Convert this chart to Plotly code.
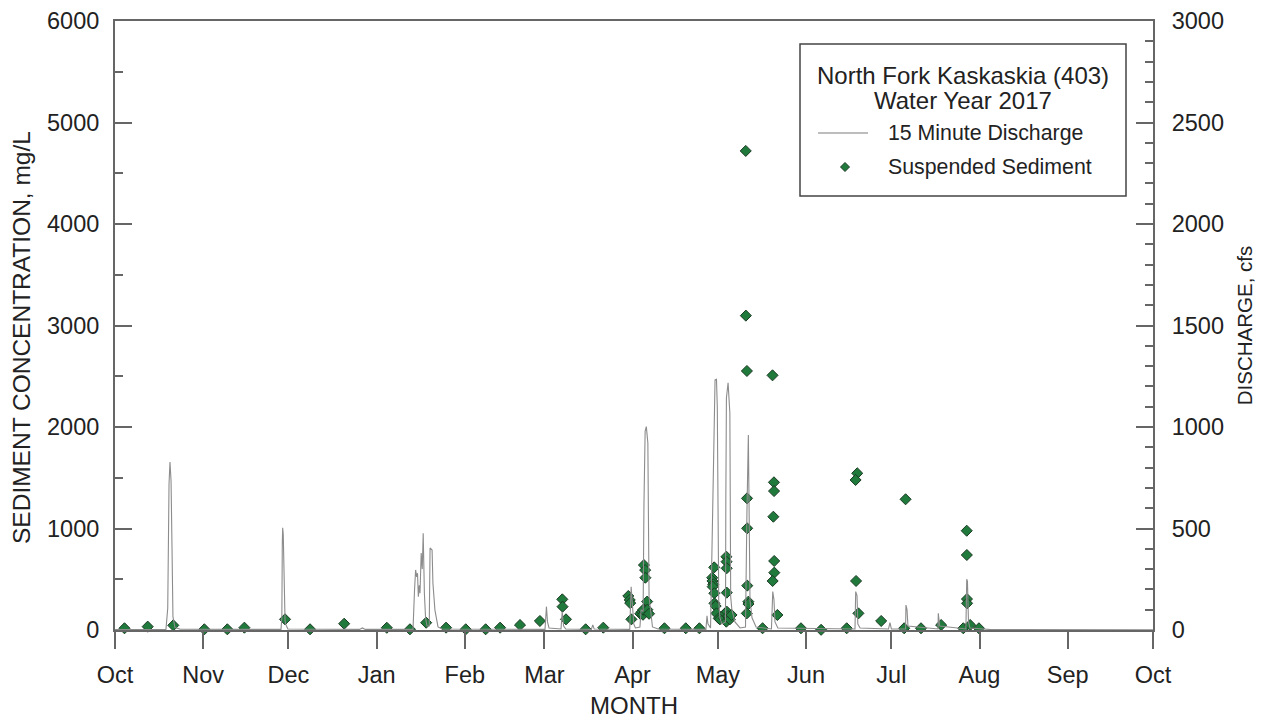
import plotly.graph_objects as go

# 15-minute discharge record (cfs), break points of the hydrograph
discharge_time = [
    "2016-10-01 00:00", "2016-10-18 22:00", "2016-10-19 13:00", "2016-10-19 18:00",
    "2016-10-20 00:00", "2016-10-20 08:00", "2016-10-20 17:00", "2016-10-21 01:00",
    "2016-10-21 09:00", "2016-10-22 02:00", "2016-10-24 00:00",
    "2016-11-28 09:00", "2016-11-28 16:00", "2016-11-28 20:00", "2016-11-28 23:00",
    "2016-11-29 04:00", "2016-11-29 10:00", "2016-11-29 19:00", "2016-11-30 03:00",
    "2016-11-30 19:00",
    "2016-12-26 00:00", "2016-12-27 00:00", "2016-12-28 00:00",
    "2017-01-13 19:00", "2017-01-14 08:00", "2017-01-14 17:00", "2017-01-15 02:00",
    "2017-01-15 09:00", "2017-01-15 16:00", "2017-01-16 00:00", "2017-01-16 06:00",
    "2017-01-16 16:00", "2017-01-17 01:00", "2017-01-17 09:00", "2017-01-17 19:00",
    "2017-01-18 05:00", "2017-01-18 17:00", "2017-01-19 12:00", "2017-01-19 19:00",
    "2017-01-20 12:00", "2017-01-20 19:00", "2017-01-21 12:00", "2017-01-22 14:00",
    "2017-01-24 00:00",
    "2017-03-01 05:00", "2017-03-01 12:00", "2017-03-01 17:00", "2017-03-02 02:00",
    "2017-03-02 15:00", "2017-03-06 20:00", "2017-03-07 06:00", "2017-03-07 18:00",
    "2017-03-08 12:00", "2017-03-17 12:00", "2017-03-18 00:00", "2017-03-18 12:00",
    "2017-03-31 00:00", "2017-03-31 12:00", "2017-03-31 22:00", "2017-04-01 10:00",
    "2017-04-02 00:00", "2017-04-03 14:00", "2017-04-04 00:00", "2017-04-04 17:00",
    "2017-04-05 00:00", "2017-04-05 10:00", "2017-04-05 20:00", "2017-04-06 09:00",
    "2017-04-06 19:00", "2017-04-07 11:00", "2017-04-08 00:00", "2017-04-10 00:00",
    "2017-04-26 19:00", "2017-04-27 04:00", "2017-04-27 12:00", "2017-04-28 10:00",
    "2017-04-28 19:00", "2017-04-29 01:00", "2017-04-29 07:00", "2017-04-29 14:00",
    "2017-04-30 00:00", "2017-04-30 12:00", "2017-04-30 19:00", "2017-05-01 07:00",
    "2017-05-01 17:00", "2017-05-02 10:00", "2017-05-03 16:00", "2017-05-03 19:00",
    "2017-05-04 00:00", "2017-05-04 14:00", "2017-05-05 05:00", "2017-05-05 12:00",
    "2017-05-05 22:00", "2017-05-07 00:00", "2017-05-08 19:00", "2017-05-10 17:00",
    "2017-05-10 21:00", "2017-05-11 05:00", "2017-05-11 17:00", "2017-05-11 22:00",
    "2017-05-12 07:00", "2017-05-13 00:00", "2017-05-14 10:00",
    "2017-05-19 20:00", "2017-05-20 07:00", "2017-05-20 17:00", "2017-05-21 02:00",
    "2017-05-22 02:00",
    "2017-06-18 05:00", "2017-06-18 11:00", "2017-06-18 22:00", "2017-06-19 05:00",
    "2017-06-20 00:00", "2017-06-30 00:00", "2017-06-30 12:00", "2017-07-01 00:00",
    "2017-07-06 00:00", "2017-07-06 03:00", "2017-07-06 12:00", "2017-07-06 20:00",
    "2017-07-17 10:00", "2017-07-17 12:00", "2017-07-18 00:00",
    "2017-07-27 05:00", "2017-07-27 12:00", "2017-07-27 18:00", "2017-07-28 03:00",
    "2017-07-28 15:00", "2017-08-05 00:00", "2017-09-30 23:45",
]
discharge_cfs = [
    2, 3, 107, 440,
    720, 828, 735, 410,
    66, 12, 4,
    3, 60, 430, 504,
    470, 320, 45, 25,
    5,
    3, 10, 3,
    3, 200, 296, 262,
    280, 164, 220, 181,
    379, 300, 477, 180,
    60, 20, 20, 404,
    394, 231, 98, 15,
    5,
    3, 110, 115, 40,
    10, 5, 90, 20,
    5, 3, 25, 5,
    3, 213, 140, 30,
    10, 15, 100, 90,
    616, 980, 1002, 921,
    164, 60, 15, 5,
    3, 70, 30, 10,
    300, 673, 837, 1084,
    1232, 1235, 1100, 148,
    60, 30, 40, 640,
    1143, 1218, 1069, 164,
    100, 40, 10, 15,
    312, 576, 960, 607,
    148, 60, 15,
    5, 189, 150, 40,
    10,
    5, 189, 170, 30,
    10, 5, 36, 5,
    5, 123, 100, 20,
    5, 82, 20,
    5, 250, 240, 40,
    10, 2, 1,
]

# Suspended sediment samples (mg/L)
sample_time = [
    "2016-10-04 08:00", "2016-10-12 12:00", "2016-10-21 12:00", "2016-11-01 10:00",
    "2016-11-09 12:00", "2016-11-15 12:00", "2016-11-29 19:00", "2016-12-08 14:00",
    "2016-12-20 14:00", "2017-01-04 14:00", "2017-01-12 17:00", "2017-01-18 10:00",
    "2017-01-25 10:00", "2017-02-01 08:00", "2017-02-08 08:00", "2017-02-13 10:00",
    "2017-02-20 10:00", "2017-02-27 10:00", "2017-03-07 07:00", "2017-03-07 09:00",
    "2017-03-08 14:00", "2017-03-15 12:00", "2017-03-21 17:00", "2017-03-30 12:00",
    "2017-03-31 00:00", "2017-03-31 04:00", "2017-03-31 14:00", "2017-04-03 17:00",
    "2017-04-04 07:00", "2017-04-04 16:00", "2017-04-04 18:00", "2017-04-05 00:00",
    "2017-04-05 10:00", "2017-04-05 12:00", "2017-04-06 03:00", "2017-04-06 05:00",
    "2017-04-06 19:00", "2017-04-12 05:00", "2017-04-19 17:00", "2017-04-24 12:00",
    "2017-04-29 00:00", "2017-04-29 02:00", "2017-04-29 09:00", "2017-04-29 04:00",
    "2017-04-29 17:00", "2017-04-29 18:00", "2017-04-29 19:00", "2017-04-30 05:00",
    "2017-04-30 12:00", "2017-05-01 07:00", "2017-05-01 17:00",
    "2017-05-03 05:00", "2017-05-03 12:00", "2017-05-04 00:00", "2017-05-04 01:00",
    "2017-05-04 02:00", "2017-05-04 03:00", "2017-05-04 04:00", "2017-05-03 23:00",
    "2017-05-04 14:00", "2017-05-05 05:00", "2017-05-05 19:00",
    "2017-05-10 19:00", "2017-05-10 20:00", "2017-05-11 05:00", "2017-05-11 06:00",
    "2017-05-11 07:00", "2017-05-11 08:00", "2017-05-11 17:00", "2017-05-11 18:00",
    "2017-05-11 04:00", "2017-05-16 17:00",
    "2017-05-20 05:00", "2017-05-20 17:00", "2017-05-20 18:00", "2017-05-20 12:00",
    "2017-05-20 19:00", "2017-05-20 20:00", "2017-05-20 06:00", "2017-05-21 22:00",
    "2017-05-30 05:00", "2017-06-06 07:00", "2017-06-15 07:00",
    "2017-06-19 00:00", "2017-06-18 10:00", "2017-06-18 14:00", "2017-06-19 10:00",
    "2017-06-27 10:00", "2017-07-06 00:00", "2017-07-05 12:00", "2017-07-11 10:00",
    "2017-07-18 12:00",
    "2017-07-27 12:00", "2017-07-27 13:00", "2017-07-27 14:00", "2017-07-27 15:00",
    "2017-07-26 07:00", "2017-07-28 17:00", "2017-07-31 19:00",
]
sediment_mgL = [
    17, 33, 46, 7,
    7, 23, 105, 7,
    62, 22, 7, 72,
    23, 7, 7, 23,
    49, 89, 302, 230,
    105, 7, 23, 335,
    296, 265, 105, 160,
    180, 150, 200, 640,
    590, 515, 280, 200,
    160, 17, 17, 17,
    515, 483, 450, 427,
    617, 362, 263, 236,
    164, 115, 105,
    115, 164, 722, 673,
    608, 368, 180, 82,
    138, 105, 148,
    4720, 3097, 2552, 1297,
    1002, 437, 279, 256,
    164, 17,
    2509, 1455, 1369, 1116,
    680, 565, 483, 148,
    17, 2, 17,
    1544, 1478, 483, 164,
    89, 1288, 17, 17,
    49,
    978, 739, 305, 263,
    17, 49, 17,
]

# Month ticks for the water year
month_ticks = [
    "2016-10-01", "2016-11-01", "2016-12-01", "2017-01-01", "2017-02-01",
    "2017-03-01", "2017-04-01", "2017-05-01", "2017-06-01", "2017-07-01",
    "2017-08-01", "2017-09-01", "2017-10-01",
]
month_labels = ["Oct", "Nov", "Dec", "Jan", "Feb", "Mar", "Apr",
                "May", "Jun", "Jul", "Aug", "Sep", "Oct"]

legend_title = ["North Fork Kaskaskia (403)", "Water Year 2017"]
legend_items = ["15 Minute Discharge", "Suspended Sediment"]

FONT = "Liberation Sans, Arial, sans-serif"
AXIS_COLOR = "#666666"
TEXT_COLOR = "#222222"
LINE_COLOR = "#8c8c8c"
MARKER_FILL = "#1f7a3c"
MARKER_EDGE = "#1c3a24"

W, H = 1267, 719
ML, MR, MT, MB = 115, 114, 21, 89
PW, PH = W - ML - MR, H - MT - MB


def px_x(p):
    """pixel column -> paper x"""
    return (p - ML) / PW


def px_y(p):
    """pixel row -> paper y"""
    return (H - MB - p) / PH


fig = go.Figure()

fig.add_trace(go.Scatter(
    x=discharge_time, y=discharge_cfs, yaxis="y2",
    mode="lines", name=legend_items[0],
    line=dict(color=LINE_COLOR, width=1.1),
))

fig.add_trace(go.Scatter(
    x=sample_time, y=sediment_mgL, yaxis="y",
    mode="markers", name=legend_items[1],
    marker=dict(symbol="diamond", size=8.5, color=MARKER_FILL,
                line=dict(color=MARKER_EDGE, width=1)),
    cliponaxis=False,
))

# Legend box drawn as shapes and text
shapes = [
    dict(type="rect", xref="paper", yref="paper",
         x0=px_x(800), x1=px_x(1126), y0=px_y(196), y1=px_y(44),
         line=dict(color="#444444", width=1.5), fillcolor="white", layer="above"),
    dict(type="line", xref="paper", yref="paper",
         x0=px_x(818), x1=px_x(868), y0=px_y(133), y1=px_y(133),
         line=dict(color="#bdbdbd", width=2), layer="above"),
]
dx, dy = 4.5 / PW, 4.5 / PH
cx, cy = px_x(845), px_y(167)
shapes.append(dict(
    type="path", xref="paper", yref="paper",
    path=f"M {cx - dx},{cy} L {cx},{cy + dy} L {cx + dx},{cy} L {cx},{cy - dy} Z",
    fillcolor=MARKER_FILL, line=dict(color=MARKER_EDGE, width=1), layer="above",
))

annotations = [
    dict(text=legend_title[0], x=px_x(963), y=px_y(75), xref="paper", yref="paper",
         xanchor="center", yanchor="middle", showarrow=False,
         font=dict(family=FONT, size=24, color=TEXT_COLOR)),
    dict(text=legend_title[1], x=px_x(963), y=px_y(101), xref="paper", yref="paper",
         xanchor="center", yanchor="middle", showarrow=False,
         font=dict(family=FONT, size=24, color=TEXT_COLOR)),
    dict(text=legend_items[0], x=px_x(886), y=px_y(133), xref="paper", yref="paper",
         xanchor="left", yanchor="middle", showarrow=False,
         font=dict(family=FONT, size=21.3, color=TEXT_COLOR)),
    dict(text=legend_items[1], x=px_x(886), y=px_y(167), xref="paper", yref="paper",
         xanchor="left", yanchor="middle", showarrow=False,
         font=dict(family=FONT, size=21.3, color=TEXT_COLOR)),
    # left axis title
    dict(text="SEDIMENT CONCENTRATION, mg/L", x=px_x(22), y=px_y(338),
         xref="paper", yref="paper", xanchor="center", yanchor="middle",
         textangle=-90, showarrow=False,
         font=dict(family=FONT, size=24.5, color=TEXT_COLOR)),
]

fig.update_layout(
    width=W, height=H,
    margin=dict(l=ML, r=MR, t=MT, b=MB, autoexpand=False),
    paper_bgcolor="white", plot_bgcolor="white",
    font=dict(family=FONT, size=23.5, color=TEXT_COLOR),
    showlegend=False,
    shapes=shapes,
    annotations=annotations,
    xaxis=dict(
        type="date",
        range=["2016-10-01", "2017-10-01"],
        tickmode="array", tickvals=month_ticks, ticktext=month_labels,
        ticks="outside", ticklen=17, tickwidth=2, tickcolor=AXIS_COLOR,
        ticklabelstandoff=6,
        showline=True, linecolor=AXIS_COLOR, linewidth=2, mirror=True,
        showgrid=False, zeroline=False, automargin=False,
        tickfont=dict(size=23.5),
        title=dict(text="MONTH", font=dict(size=24), standoff=10),
    ),
    yaxis=dict(
        range=[0, 6000], dtick=1000, tick0=0,
        ticks="inside", ticklen=17, tickwidth=2, tickcolor=AXIS_COLOR,
        minor=dict(dtick=500, ticks="inside", ticklen=8, tickwidth=2,
                   tickcolor=AXIS_COLOR, showgrid=False),
        ticklabelstandoff=9,
        showline=True, linecolor=AXIS_COLOR, linewidth=2,
        showgrid=False, zeroline=False, automargin=False,
        tickfont=dict(size=23.5),
    ),
    yaxis2=dict(
        overlaying="y", side="right",
        range=[0, 3000], dtick=500, tick0=0,
        ticks="inside", ticklen=17, tickwidth=2, tickcolor=AXIS_COLOR,
        minor=dict(dtick=100, ticks="inside", ticklen=8, tickwidth=2,
                   tickcolor=AXIS_COLOR, showgrid=False),
        ticklabelstandoff=12,
        showline=True, linecolor=AXIS_COLOR, linewidth=2,
        showgrid=False, zeroline=False, automargin=False,
        tickfont=dict(size=23.5),
        title=dict(text="DISCHARGE, cfs", font=dict(size=20.5), standoff=15),
    ),
)

fig.write_html("out.html")
